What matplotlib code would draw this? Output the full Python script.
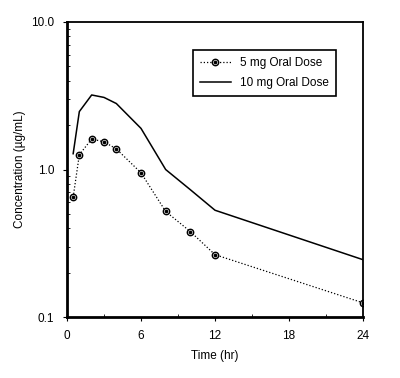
import numpy as np
import matplotlib.pyplot as plt
from matplotlib.ticker import FixedLocator, LogLocator, NullFormatter

plt.rcParams['font.family'] = ['Liberation Sans', 'DejaVu Sans']

## data
time_hr = [0.5, 1, 2, 3, 4, 6, 8, 10, 12, 24]
conc_5mg = [0.65, 1.26, 1.61, 1.54, 1.38, 0.95, 0.52, 0.38, 0.265, 0.125]
conc_10mg = [1.28, 2.47, 3.2, 3.08, 2.8, 1.9, 1.0, 0.73, 0.53, 0.245]
x_ticks = [0, 6, 12, 18, 24]
y_ticks = [0.1, 1.0, 10.0]
y_ticklabels = ["0.1", "1.0", "10.0"]

##
fig = plt.figure(figsize=(4, 3.78), dpi=100)
ax = fig.add_axes([0.1675, 0.161, 0.74, 0.781])

l5, = ax.plot(time_hr, conc_5mg, color="k", lw=0.9, ls=(0, (1, 1.6)),
              marker="o", ms=4.6, mfc="#e0e0e0", mec="k", mew=1.0)
# dot in the middle of each circle
d5, = ax.plot(time_hr, conc_5mg, ls="none", marker="o", ms=1.6, color="k")
l10, = ax.plot(time_hr, conc_10mg, color="k", lw=1.1)

ax.set_yscale("log")
ax.set_xlim(0, 24)
ax.set_ylim(0.1, 10)
ax.set_xticks(x_ticks)
ax.xaxis.set_minor_locator(FixedLocator([3, 9, 15, 21]))
ax.set_yticks(y_ticks)
ax.set_yticklabels(y_ticklabels)
ax.yaxis.set_minor_locator(LogLocator(base=10, subs=np.arange(2, 10)))
ax.yaxis.set_minor_formatter(NullFormatter())

ax.tick_params(axis="both", which="major", direction="out", length=3, width=0.8,
               labelsize=8.5, pad=6)
ax.tick_params(axis="both", which="minor", direction="in", length=2, width=0.6)

for side in ["left", "bottom"]:
    ax.spines[side].set_linewidth(2.0)
for side in ["top", "right"]:
    ax.spines[side].set_linewidth(1.3)

ax.set_xlabel("Time (hr)", fontsize=8.5, labelpad=6)
ax.set_ylabel("Concentration (µg/mL)", fontsize=8.5, labelpad=4)

leg = ax.legend([(l5, d5), l10], ["5 mg Oral Dose", "10 mg Oral Dose"],
                loc="upper left", bbox_to_anchor=(0.405, 0.925), fontsize=8.5,
                frameon=True, fancybox=False, edgecolor="k", framealpha=1,
                handlelength=2.6, borderpad=0.6, labelspacing=0.7)
leg.get_frame().set_linewidth(1.2)

fig.savefig("out.png", dpi=100)
